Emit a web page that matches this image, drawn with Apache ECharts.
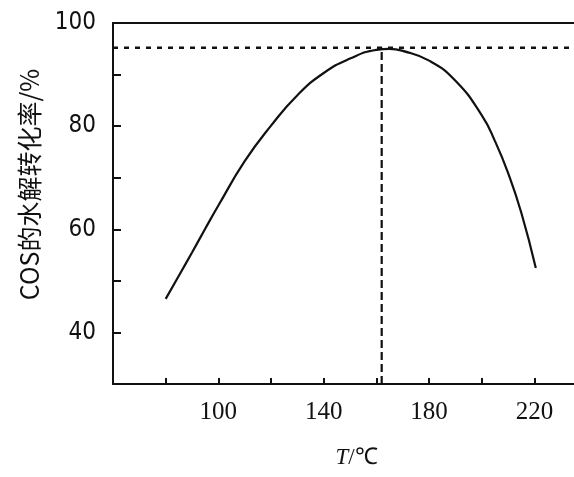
<!DOCTYPE html>
<html>
<head>
<meta charset="utf-8">
<script src="https://cdn.jsdelivr.net/npm/echarts@6/dist/echarts.min.js"></script>
<style>html,body{margin:0;padding:0;background:#fff;}#c{width:574px;height:477px;}</style>
</head>
<body>
<div id="c"></div>
<script>
// Data
var temps = [80, 85, 90, 95, 100, 110, 120, 130, 140, 150, 160, 165, 170, 180, 190, 200, 205, 210, 215, 220.5];
var conversion = [46.5, 51.0, 55.5, 60.1, 64.6, 73.2, 80.1, 86.0, 90.3, 93.1, 94.8, 95.0, 94.6, 92.7, 88.8, 82.1, 77.1, 70.9, 63.2, 52.5];
var xTickValues = [80, 100, 120, 140, 160, 180, 200, 220];
var xTickLabels = [100, 140, 180, 220];
var yTickLabels = [40, 60, 80, 100];
var optimumT = 162;
var optimumY = 95.2;
var yMin = 30;

var chart = echarts.init(document.getElementById('c'));
var curve = temps.map(function (t, i) { return [t, conversion[i]]; });
chart.setOption({
  animation: false,
  backgroundColor: '#fff',
  grid: { left: 113, right: 0, top: 23, bottom: 93, containLabel: false },
  xAxis: [{
    type: 'value', min: 60, max: 235, interval: 20,
    position: 'bottom',
    name: '{i|T}/℃', nameLocation: 'middle', nameGap: 62,
    nameTextStyle: { rich: { i: { fontStyle: 'italic', fontFamily: 'Liberation Serif', fontSize: 23, color: '#111' } },
                     fontFamily: 'Liberation Serif', fontSize: 23, color: '#111', padding: [0, 0, 0, 26] },
    axisLine: { lineStyle: { color: '#111', width: 2 } },
    axisTick: { inside: true, length: 6, customValues: xTickValues, lineStyle: { color: '#111', width: 2 } },
    axisLabel: { margin: 16, color: '#111', fontFamily: 'Liberation Serif', fontSize: 25, customValues: xTickLabels },
    splitLine: { show: false }
  }, {
    type: 'value', min: 60, max: 235, position: 'top',
    axisLine: { lineStyle: { color: '#111', width: 2 } },
    axisTick: { show: false }, axisLabel: { show: false }, splitLine: { show: false }
  }],
  yAxis: {
    type: 'value', min: yMin, max: 100, interval: 10,
    name: 'COS的水解转化率/%', nameLocation: 'middle', nameGap: 71,
    nameTextStyle: { fontFamily: 'Noto Sans CJK SC', fontSize: 25, color: '#111', padding: [0, 0, 0, 38] },
    axisLine: { lineStyle: { color: '#111', width: 2 } },
    axisTick: { inside: true, length: 8, lineStyle: { color: '#111', width: 2 } },
    axisLabel: { margin: 17, color: '#111', fontFamily: '"DejaVu Sans Condensed", "Liberation Sans", sans-serif', fontSize: 24,
      formatter: function (v) { return yTickLabels.indexOf(v) >= 0 ? String(v) : ''; } },
    splitLine: { show: false }
  },
  series: [{
    type: 'line', data: curve, smooth: 0.5, symbol: 'none',
    lineStyle: { color: '#111', width: 2.2 }
  }, {
    type: 'line', data: [[60, optimumY], [235, optimumY]], symbol: 'none',
    lineStyle: { color: '#111', width: 2.5, type: [5, 6] }
  }, {
    type: 'line', data: [[optimumT, yMin], [optimumT, optimumY]], symbol: 'none',
    lineStyle: { color: '#111', width: 2.2, type: [8, 4] }
  }]
});
</script>
</body>
</html>
